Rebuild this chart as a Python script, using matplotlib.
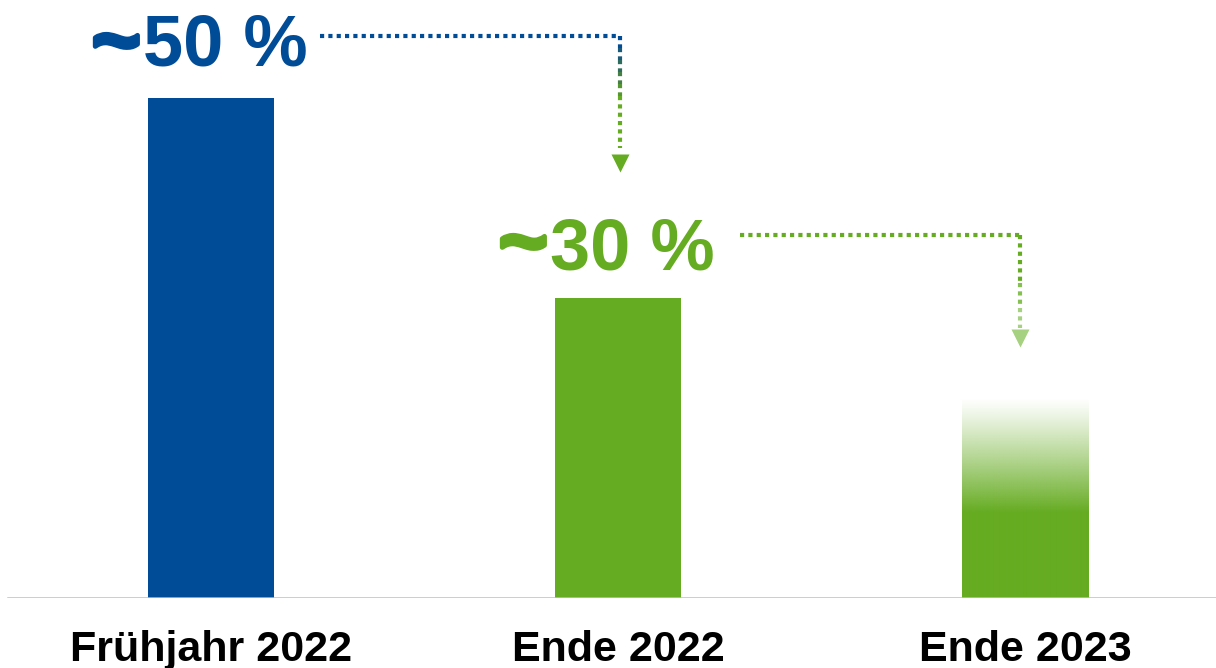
import numpy as np
import matplotlib.pyplot as plt
import matplotlib.patheffects as pe
from matplotlib.colors import to_rgb

# Chart data
categories = ['Frühjahr 2022', 'Ende 2022', 'Ende 2023']
values = [50, 30, 20]
value_labels = ['50 %', '30 %', None]

BLUE = '#004C97'
GREEN = '#66AC22'
LIGHT_GREEN = '#A6D181'

plt.rcParams['font.family'] = ['Liberation Sans', 'DejaVu Sans']

fig = plt.figure(figsize=(12.16, 6.68), dpi=100)
ax = fig.add_axes([0, 70 / 668, 1, 598 / 668])
ax.set_xlim(-211 / 407, 1005 / 407)
ax.set_ylim(0, 59.8)
ax.axis('off')

x = np.arange(len(categories))
width = 0.31

# Solid bars for the first two, gradient bar for the forecast
ax.bar(x[:2], values[:2], width=width, color=[BLUE, GREEN], zorder=2)

g = np.array(to_rgb(GREEN))
n = 200
rgba = np.zeros((n, 1, 4))
rgba[:, 0, :3] = g
frac = np.linspace(0, 1, n)            # 0 = top, 1 = bottom
rgba[:, 0, 3] = np.clip(frac / 0.57, 0, 1) ** 1.1
ax.imshow(rgba, extent=[x[2] - width / 2, x[2] + width / 2, 0, values[2]],
          aspect='auto', interpolation='bilinear', zorder=2)

# Baseline
ax.axhline(0, xmin=8 / 1216, xmax=1, color='#BFBFBF', lw=1.8, zorder=3)

# Category labels
for xi, cat in zip(x, categories):
    ax.text(xi, -6.3, cat, ha='center', va='baseline', fontsize=31,
            fontweight='bold', color='black', clip_on=False)

# Value labels: large tilde + number
label_colors = [BLUE, GREEN]
label_y = [53.3, 32.8]
label_left = [-0.167, -0.167]
tilde_y = [56.0, 35.9]
for i in range(2):
    ax.text(x[i] + label_left[i], label_y[i], value_labels[i], ha='left',
            va='baseline', fontsize=52, fontweight='bold', color=label_colors[i])
    ax.text(x[i] + label_left[i] - 0.006, tilde_y[i], '~', ha='right',
            va='center_baseline', fontsize=60, fontweight='bold',
            color=label_colors[i],
            path_effects=[pe.withStroke(linewidth=3.5, foreground=label_colors[i])])

dot = dict(linestyle=(0, (1, 1)), lw=3, solid_capstyle='butt', dash_capstyle='butt')

# Arrow 1: from ~50 % to Ende 2022
y1 = 56.2
xa, xb = 0.268, 1.005
ax.plot([xa, xb], [y1, y1], color=BLUE, **dot)
steps = [(56.2, 55.0, BLUE), (55.0, 53.8, '#1A5A7A'), (53.8, 52.6, '#2E6C5E'),
         (52.6, 51.4, '#457F45'), (51.4, 50.2, '#569630'), (50.2, 45.0, GREEN)]
for ya, yb, c in steps:
    ax.plot([xb, xb], [ya, yb], color=c, **dot)
ax.plot([xb], [43.55], marker='v', ms=13, color=GREEN, mec='none')

# Arrow 2: from ~30 % to Ende 2023
y2 = 36.3
xc, xd = 1.30, 1.988
ax.plot([xc, xd], [y2, y2], color=GREEN, **dot)
steps2 = [(36.3, 31.5, GREEN), (31.5, 29.0, '#86BF52'), (29.0, 27.0, LIGHT_GREEN)]
for ya, yb, c in steps2:
    ax.plot([xd, xd], [ya, yb], color=c, **dot)
ax.plot([xd], [26.0], marker='v', ms=13, color=LIGHT_GREEN, mec='none')

fig.savefig('out.png', dpi=100)
